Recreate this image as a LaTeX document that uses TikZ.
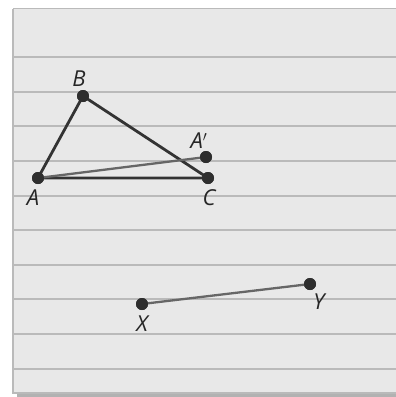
\documentclass[tikz,border=0pt]{standalone}
\usepackage{fontspec}
\setmainfont{Open Sans}
\begin{document}
\begin{tikzpicture}[x=1pt,y=-1pt,
  ruled/.style={draw=black!27,line width=1.6pt},
  dot/.style={circle,fill=black!82,inner sep=0pt,minimum size=12pt},
  side/.style={draw=black!80,line width=2.8pt},
  seg/.style={draw=black!60,line width=2.3pt},
  lbl/.style={font=\fontsize{22}{22}\selectfont\itshape,text=black!85,inner sep=0pt}]
\useasboundingbox (0,0) rectangle (396,397);
\fill[white] (0,0) rectangle (396,397);
% shadow
\fill[black!30] (17,393) rectangle (398,397);
% panel
\fill[black!9] (13,8.5) rectangle (398,393);
\draw[ruled] (13,8.5) -- (398,8.5);
\draw[ruled] (13,8.5) -- (13,393) -- (398,393);
\foreach \y in {57,92,126,161,196,230,265,299,334,369}
  \draw[ruled] (13,\y) -- (398,\y);
% points
\node[dot] (A) at (38,178) {};
\node[dot] (B) at (83,96) {};
\node[dot] (C) at (208,178) {};
\node[dot] (Ap) at (206,157) {};
\node[dot] (X) at (142,304) {};
\node[dot] (Y) at (310,284) {};
\draw[side] (A.center) -- (B.center) -- (C.center) -- cycle;
\draw[seg] (A.center) -- (Ap.center);
\draw[seg] (X.center) -- (Y.center);
\node[dot] at (A) {};
\node[dot] at (B) {};
\node[dot] at (C) {};
\node[dot] at (Ap) {};
\node[dot] at (X) {};
\node[dot] at (Y) {};
% labels
\node[lbl] (lB) at (79,79) {B};
\node[lbl] (lA) at (33,198) {A};
\node[lbl] (lAp) at (199,141) {A$'$};
\node[lbl] (lC) at (209,198) {C};
\node[lbl] (lX) at (142,324) {X};
\node[lbl] (lY) at (319,302) {Y};
\end{tikzpicture}
\end{document}
